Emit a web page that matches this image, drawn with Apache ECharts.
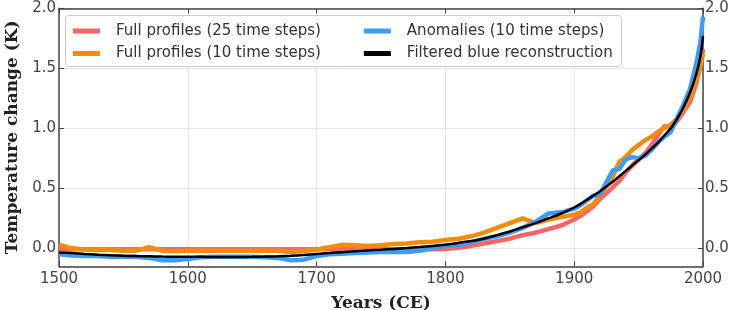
<!DOCTYPE html>
<html>
<head>
<meta charset="utf-8">
<script src="https://cdn.jsdelivr.net/npm/echarts@6/dist/echarts.min.js"></script>
<style>html,body{margin:0;padding:0;background:#fff;}#c{width:737px;height:310px;}</style>
</head>
<body>
<div id="c"></div>
<script>
const years = [1500,1510,1520,1530,1540,1550,1560,1570,1580,1590,
  1600,1610,1620,1630,1640,1650,1660,1670,1680,1690,
  1700,1710,1720,1730,1740,1750,1760,1770,1780,1790,
  1800,1810,1820,1830,1840,1850,1860,1870,1880,1890,
  1900,1905,1910,1915,1920,1925,1930,1935,1940,1945,
  1950,1955,1960,1965,1970,1975,1980,1985,1990,1995,1998,2000];

const full25 = [-0.005,-0.008,-0.008,-0.008,-0.008,-0.008,-0.008,-0.008,-0.008,-0.008,
  -0.008,-0.008,-0.008,-0.008,-0.008,-0.008,-0.008,-0.008,-0.008,-0.008,
  -0.008,-0.008,-0.008,-0.008,-0.008,-0.008,-0.008,-0.008,-0.008,-0.008,
  -0.005,0.005,0.02,0.04,0.06,0.08,0.11,0.13,0.16,0.19,
  0.24,0.27,0.31,0.35,0.41,0.46,0.51,0.56,0.63,0.69,
  0.74,0.79,0.86,0.94,1.02,1.00,1.06,1.14,1.22,1.38,1.52,1.66];

const full10 = [0.03,0.0,-0.01,-0.015,-0.015,-0.02,-0.02,0.01,-0.02,-0.025,
  -0.02,-0.02,-0.02,-0.02,-0.02,-0.02,-0.02,-0.02,-0.03,-0.025,
  -0.01,0.01,0.03,0.025,0.02,0.025,0.035,0.04,0.05,0.055,
  0.07,0.08,0.10,0.13,0.17,0.21,0.25,0.21,0.24,0.26,
  0.28,0.30,0.34,0.37,0.44,0.52,0.60,0.72,0.76,0.82,
  0.86,0.90,0.93,0.97,1.00,1.03,1.08,1.16,1.26,1.40,1.52,1.62];

const anom10 = [-0.05,-0.06,-0.065,-0.065,-0.07,-0.07,-0.07,-0.08,-0.10,-0.10,
  -0.09,-0.075,-0.07,-0.07,-0.07,-0.07,-0.075,-0.08,-0.10,-0.095,
  -0.065,-0.05,-0.045,-0.04,-0.035,-0.03,-0.03,-0.03,-0.02,0.0,
  0.02,0.03,0.05,0.08,0.10,0.13,0.17,0.22,0.29,0.30,
  0.33,0.36,0.40,0.44,0.45,0.55,0.65,0.66,0.74,0.76,
  0.75,0.77,0.82,0.88,0.93,0.97,1.09,1.20,1.33,1.55,1.72,1.93];

const filtered = [-0.035,-0.04,-0.047,-0.053,-0.058,-0.062,-0.065,-0.067,-0.069,-0.07,
  -0.07,-0.071,-0.072,-0.072,-0.072,-0.071,-0.069,-0.066,-0.062,-0.056,
  -0.048,-0.04,-0.032,-0.025,-0.018,-0.012,-0.005,0.002,0.01,0.02,
  0.03,0.045,0.06,0.08,0.11,0.14,0.175,0.21,0.25,0.29,
  0.34,0.37,0.405,0.44,0.475,0.515,0.555,0.60,0.645,0.69,
  0.735,0.78,0.83,0.88,0.94,1.00,1.08,1.18,1.30,1.46,1.60,1.77];

const seriesNames = ['Full profiles (25 time steps)','Full profiles (10 time steps)','Anomalies (10 time steps)','Filtered blue reconstruction'];
const seriesColors = ['#ff6464','#f28c0c','#3d9cf5','#000000'];
const xTicks = [1500,1600,1700,1800,1900,2000];
const yTicks = [0.0,0.5,1.0,1.5,2.0];

function pairs(vals){ return years.map((y,i)=>[y, vals[i]]); }

const chart = echarts.init(document.getElementById('c'), null, {renderer:'canvas'});
const tickFont = {fontFamily:'DejaVu Sans', fontSize:15, color:'#444'};
const axisLineStyle = {color:'#444', width:1.5};
const yFmt = v => yTicks.some(t=>Math.abs(t-v)<1e-9) ? v.toFixed(1) : '';
const xFmt = v => xTicks.indexOf(v) >= 0 ? String(v) : '';

chart.setOption({
  animation:false,
  backgroundColor:'#fff',
  grid:{left:59, right:34, top:8.3, bottom:43.7, containLabel:false, outerBoundsMode:'none'},
  graphic:[{type:'rect', z:3, shape:{x:65.5, y:15.5, width:556, height:51, r:3},
    style:{fill:'#fff', stroke:'#cccccc', lineWidth:1}}],
  legend:[
    {data:[seriesNames[0], seriesNames[2]], left:73, top:23.5, padding:0, itemWidth:27, itemHeight:5, itemGap:43, icon:'rect', z:5,
      textStyle:{fontFamily:'DejaVu Sans', fontSize:15, color:'#333', padding:[0,0,0,11]}},
    {data:[seriesNames[1], seriesNames[3]], left:73, top:46, padding:0, itemWidth:27, itemHeight:5, itemGap:43, icon:'rect', z:5,
      textStyle:{fontFamily:'DejaVu Sans', fontSize:15, color:'#333', padding:[0,0,0,11]}}
  ],
  xAxis:[
    {type:'value', min:1500, max:2000, interval:100, position:'bottom',
      name:'Years (CE)', nameLocation:'middle', nameGap:29,
      nameTextStyle:{fontFamily:'DejaVu Serif', fontWeight:'bold', fontSize:17, color:'#222'},
      axisLine:{show:true, onZero:false, lineStyle:axisLineStyle},
      axisTick:{show:true, inside:true, length:5, lineStyle:{color:'#444', width:1}},
      axisLabel:{...tickFont, margin:5, formatter:xFmt},
      splitLine:{show:true, lineStyle:{color:'#e6e6e6', width:1}}},
    {type:'value', min:1500, max:2000, interval:100, position:'top',
      axisLine:{show:true, onZero:false, lineStyle:axisLineStyle},
      axisTick:{show:true, inside:true, length:5, lineStyle:{color:'#444', width:1}},
      axisLabel:{show:false}, splitLine:{show:false}}
  ],
  yAxis:[
    {type:'value', min:-0.15, max:2.0, splitNumber:4, position:'left',
      name:'Temperature change (K)', nameLocation:'middle', nameGap:26,
      nameTextStyle:{fontFamily:'DejaVu Serif', fontWeight:'bold', fontSize:17, color:'#222'},
      axisLine:{show:true, onZero:false, lineStyle:axisLineStyle},
      axisTick:{show:true, inside:true, length:5, lineStyle:{color:'#444', width:1}},
      axisLabel:{...tickFont, margin:3, formatter:yFmt, showMinLabel:false},
      splitLine:{show:true, lineStyle:{color:'#e6e6e6', width:1}}},
    {type:'value', min:-0.15, max:2.0, splitNumber:4, position:'right',
      axisLine:{show:true, onZero:false, lineStyle:axisLineStyle},
      axisTick:{show:true, inside:true, length:5, lineStyle:{color:'#444', width:1}},
      axisLabel:{...tickFont, margin:2, formatter:yFmt, showMinLabel:false},
      splitLine:{show:false}}
  ],
  series:[
    {name:seriesNames[0], type:'line', data:pairs(full25), symbol:'none', z:2,
      lineStyle:{color:seriesColors[0], width:4.5}, itemStyle:{color:seriesColors[0]}},
    {name:seriesNames[1], type:'line', data:pairs(full10), symbol:'none', z:2,
      lineStyle:{color:seriesColors[1], width:4.5}, itemStyle:{color:seriesColors[1]}},
    {name:seriesNames[2], type:'line', data:pairs(anom10), symbol:'none', z:2,
      lineStyle:{color:seriesColors[2], width:4.5}, itemStyle:{color:seriesColors[2]}},
    {name:seriesNames[3], type:'line', data:pairs(filtered), symbol:'none', z:2, smooth:0.3,
      lineStyle:{color:seriesColors[3], width:2.5}, itemStyle:{color:seriesColors[3]}}
  ]
});
</script>
</body>
</html>
